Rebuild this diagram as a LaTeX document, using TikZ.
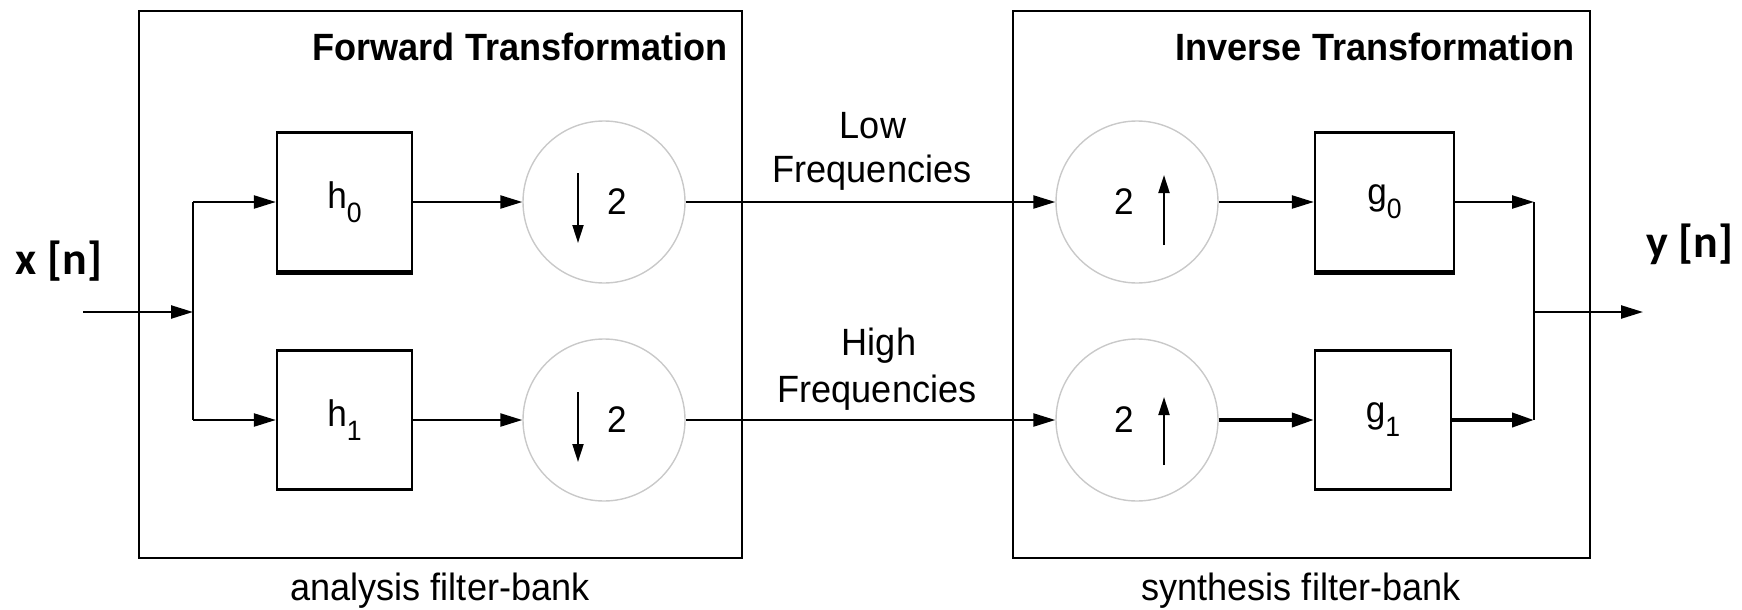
\documentclass[tikz,border=0pt]{standalone}
\usepackage{fontspec}
\setmainfont{Liberation Sans}[FakeStretch=0.95]
\newfontfamily\sigfont{Carlito}
\usetikzlibrary{arrows.meta,calc}
\tikzset{
  wire/.style={line width=2.3pt},
  conn/.style={line width=2.3pt, -{Triangle[length=22pt,width=13pt]}},
  thickconn/.style={line width=4pt, -{Triangle[length=22pt,width=14pt]}},
  inarrow/.style={line width=2pt, -{Triangle[length=18pt,width=11pt]}},
  filt/.style={draw, line width=2.3pt, minimum width=135pt, minimum height=139pt, inner sep=0pt,
               font=\fontsize{37}{40}\selectfont},
  samp/.style={circle, draw=gray!42, line width=1.4pt, minimum size=162pt, inner sep=0pt},
  outer/.style={draw, line width=2.6pt, inner sep=0pt},
  lbl/.style={font=\fontsize{38}{44}\selectfont, inner sep=0pt},
  ttl/.style={font=\fontsize{38}{44}\selectfont\bfseries, inner sep=0pt},
  sig/.style={font=\sigfont\bfseries\fontsize{46}{50}\selectfont, inner sep=0pt},
  sym/.style={font=\fontsize{37}{40}\selectfont, inner sep=0pt},
}
\newcommand{\sbs}[1]{\raisebox{-14pt}{\fontsize{28}{28}\selectfont #1}}
\begin{document}
\begin{tikzpicture}[x=1pt,y=-1pt]
\useasboundingbox (0,0) rectangle (1742,610);
% outer boxes
\node[outer, minimum width=603pt, minimum height=547pt] (fwd) at (440.5,284.5) {};
\node[outer, minimum width=577pt, minimum height=547pt] (inv) at (1301.5,284.5) {};
\node[ttl, anchor=base east] (fwdt) at (728,61) {Forward Transformation};
\node[ttl, anchor=base east] (invt) at (1575,61) {Inverse Transformation};
% filters
\node[filt] (h0) at (344.5,202) {h\sbs{0}};
\node[filt] (h1) at (344.5,420) {h\sbs{1}};
\node[filt, minimum width=139pt] (g0) at (1384.5,202) {g\sbs{0}};
\node[filt, minimum width=136pt] (g1) at (1383,420) {g\sbs{1}};
\draw[line width=4.5pt] (h0.south west) -- (h0.south east);
\draw[line width=4.5pt] (g0.south west) -- (g0.south east);
% samplers
\node[samp] (d0) at (604,202) {};
\node[samp] (d1) at (604,420) {};
\node[samp] (u0) at (1137,202) {};
\node[samp] (u1) at (1137,420) {};
\draw[inarrow] ($(d0)+(-26,-29)$) -- ($(d0)+(-26,41)$);
\draw[inarrow] ($(d1)+(-26,-28)$) -- ($(d1)+(-26,42)$);
\draw[inarrow] ($(u0)+(27,43)$) -- ($(u0)+(27,-27)$);
\draw[inarrow] ($(u1)+(27,45)$) -- ($(u1)+(27,-23)$);
\node[sym] (d0t) at ($(d0)+(13,0)$) {2};
\node[sym] (d1t) at ($(d1)+(13,0)$) {2};
\node[sym] (u0t) at ($(u0)+(-13,0)$) {2};
\node[sym] (u1t) at ($(u1)+(-13,0)$) {2};
% junction coordinates
\coordinate (in) at (83,312);
\coordinate (jL) at (193,312);
\coordinate (jL0) at (193,202);
\coordinate (jL1) at (193,420);
\coordinate (jR0) at (1534,202);
\coordinate (jR1) at (1534,420);
\coordinate (jR) at (1534,312);
\coordinate (out) at (1643,312);
% connectors
\draw[conn] (in) -- (jL);
\draw[wire] (jL0) -- (jL1);
\draw[conn] (jL0) -- (h0);
\draw[conn] (jL1) -- (h1);
\draw[conn] (h0) -- (d0);
\draw[conn] (h1) -- (d1);
\draw[conn] (d0) -- (u0);
\draw[conn] (d1) -- (u1);
\draw[conn] (u0) -- (g0);
\draw[thickconn] (u1) -- (g1);
\draw[conn] (g0) -- (jR0);
\draw[thickconn] (g1) -- (jR1);
\draw[wire] (jR0) -- (jR1);
\draw[conn] (jR) -- (out);
% labels
\node[lbl, anchor=base] (low) at (873,138) {Low};
\node[lbl, anchor=base] (lowf) at (872,182) {Frequencies};
\node[lbl, anchor=base] (high) at (879,355) {High};
\node[lbl, anchor=base] (highf) at (877,402) {Frequencies};
\node[lbl, anchor=base] (ana) at (440,600) {analysis filter-bank};
\node[lbl, anchor=base] (syn) at (1301,600) {synthesis filter-bank};
\node[sig, anchor=base] (xn) at (59,274) {x [n]};
\node[sig, anchor=base] (yn) at (1690,257) {y [n]};
\end{tikzpicture}
\end{document}
